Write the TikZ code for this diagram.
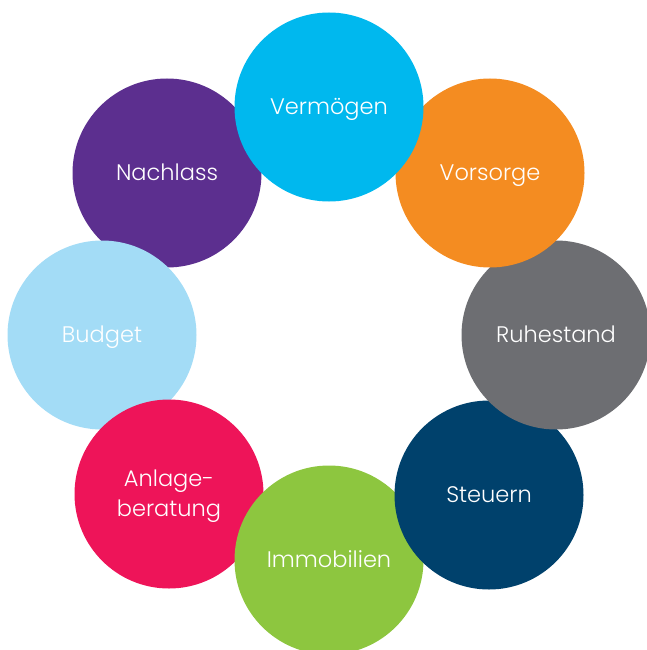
\documentclass[tikz,border=0pt]{standalone}
\usepackage{fontspec}
\setmainfont{Poppins}[UprightFont=* Light]
\usepackage{tikz}
\usetikzlibrary{shapes,positioning,calc}

\definecolor{vermoegen}{HTML}{00B8EE}
\definecolor{vorsorge}{HTML}{F48C21}
\definecolor{ruhestand}{HTML}{6D6E72}
\definecolor{steuern}{HTML}{00416C}
\definecolor{immobilien}{HTML}{8DC63F}
\definecolor{anlage}{HTML}{EE1459}
\definecolor{budget}{HTML}{A3DCF6}
\definecolor{nachlass}{HTML}{5C2F8F}

\begin{document}
\begin{tikzpicture}[x=1pt,y=-1pt,
            bubble/.style={
                circle, draw=none, minimum size=189pt, inner sep=0pt,
                text=white, align=center, text height=15.7pt, text depth=0pt,
                font=\fontsize{22.5}{30}\selectfont}]

            \useasboundingbox (0,0) rectangle (646,650);
            \coordinate (mid) at (329,334);

            % ring, drawn from the back circle to the front one
            \node [bubble,fill=nachlass] (nachlass) at ($(mid)+(-162,-161)$) {Nachlass};
            \node [bubble,fill=budget] (budget) at ($(mid)+(-227,1)$) {Budget};
            \node [bubble,fill=anlage,text height=45.7pt] (anlage) at ($(mid)+(-160,160)$) {Anlage-\\beratung};
            \node [bubble,fill=immobilien] (immobilien) at ($(mid)+(0,226)$) {Immobilien};
            \node [bubble,fill=steuern] (steuern) at ($(mid)+(160,161)$) {Steuern};
            \node [bubble,fill=ruhestand] (ruhestand) at ($(mid)+(227,1)$) {Ruhestand};
            \node [bubble,fill=vorsorge] (vorsorge) at ($(mid)+(161,-161)$) {Vorsorge};
            \node [bubble,fill=vermoegen] (vermoegen) at ($(mid)+(0,-227)$) {Vermögen};

        \end{tikzpicture}
\end{document}
